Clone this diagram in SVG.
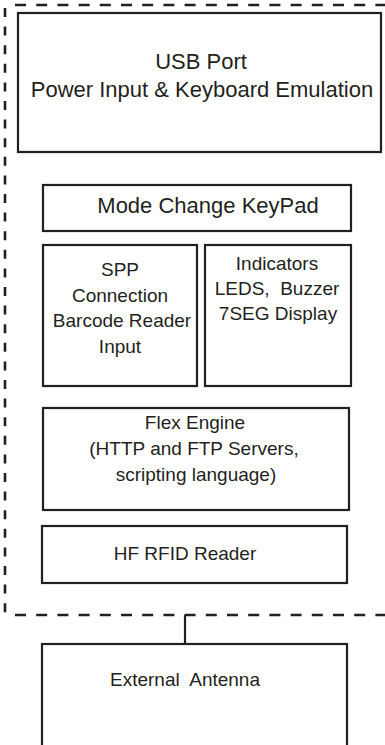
<svg xmlns="http://www.w3.org/2000/svg" width="385" height="745" viewBox="0 0 385 745">
  <style>
    .box { fill: #ffffff; stroke: #231f20; stroke-width: 2.2; }
    .t { font-family: "Liberation Sans", Arial, sans-serif; fill: #231f20; text-anchor: middle; }
    .big { font-size: 22px; }
    .sm { font-size: 19px; }
    .dashH { fill: none; stroke: #231f20; stroke-width: 2.6; stroke-dasharray: 11 10.2; }
    .dashV { fill: none; stroke: #231f20; stroke-width: 2.6; stroke-dasharray: 9 9.6; }
    .conn { fill: none; stroke: #231f20; stroke-width: 2.2; }
  </style>
  <rect width="385" height="745" fill="#ffffff"/>

  <g id="boundary">
    <line class="dashH" x1="15" y1="5" x2="385" y2="5"/>
    <line class="dashH" x1="15" y1="615" x2="385" y2="615"/>
    <line class="dashV" x1="5" y1="8" x2="5" y2="614"/>
  </g>

  <g id="connectors">
    <line class="conn" x1="185" y1="615" x2="185" y2="644"/>
  </g>

  <g id="usb">
    <rect class="box" x="18" y="13" width="363" height="139"/>
    <text class="t big" x="201" y="69">USB Port</text>
    <text class="t big" x="202" y="97">Power Input &amp; Keyboard Emulation</text>
  </g>

  <g id="keypad">
    <rect class="box" x="43" y="185" width="308" height="46"/>
    <text class="t big" x="208" y="213">Mode Change KeyPad</text>
  </g>

  <g id="spp">
    <rect class="box" x="43" y="245" width="154" height="141"/>
    <text class="t sm" x="120" y="276">SPP</text>
    <text class="t sm" x="120" y="302">Connection</text>
    <text class="t sm" x="122" y="327">Barcode Reader</text>
    <text class="t sm" x="120" y="353">Input</text>
  </g>

  <g id="indicators">
    <rect class="box" x="205" y="245" width="146" height="141"/>
    <text class="t sm" x="277" y="270">Indicators</text>
    <text class="t sm" x="277" y="295" xml:space="preserve" style="white-space:pre">LEDS,  Buzzer</text>
    <text class="t sm" x="278" y="320">7SEG Display</text>
  </g>

  <g id="flex">
    <rect class="box" x="43" y="408" width="306" height="102"/>
    <text class="t sm" x="195" y="429">Flex Engine</text>
    <text class="t sm" x="194" y="455">(HTTP and FTP Servers,</text>
    <text class="t sm" x="196" y="481">scripting language)</text>
  </g>

  <g id="rfid">
    <rect class="box" x="42" y="526" width="305" height="57"/>
    <text class="t sm" x="185" y="560">HF RFID Reader</text>
  </g>

  <g id="antenna">
    <rect class="box" x="42" y="644" width="305" height="130"/>
    <text class="t sm" x="185" y="686" xml:space="preserve" style="white-space:pre">External  Antenna</text>
  </g>
</svg>
